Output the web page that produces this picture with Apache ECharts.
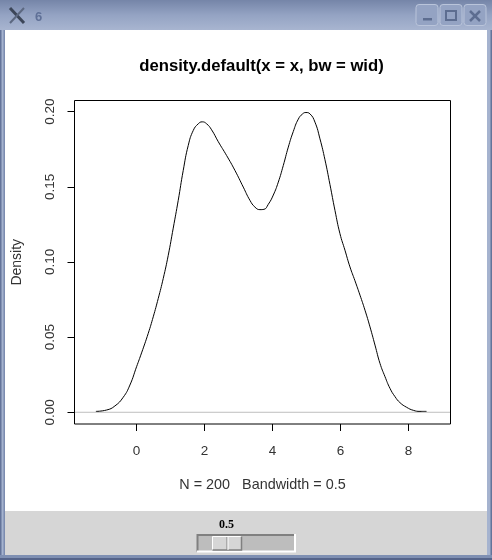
<!DOCTYPE html>
<html><head><meta charset="utf-8">
<style>html,body{margin:0;padding:0;background:#8fa0c0}#c{width:492px;height:560px}</style>
<script src="https://cdn.jsdelivr.net/npm/echarts@6/dist/echarts.min.js"></script>
</head><body><div id="c"></div>
<script>
const densityX = [-1.191,-0.877,-0.632,-0.387,-0.191,0.005,0.152,0.348,0.495,0.642,0.789,0.936,1.083,1.230,1.377,1.524,1.672,1.819,1.936,2.064,2.211,2.407,2.652,2.897,3.142,3.338,3.485,3.632,3.750,3.877,4.025,4.172,4.319,4.466,4.613,4.760,4.887,4.985,5.103,5.250,5.397,5.544,5.691,5.838,5.985,6.132,6.279,6.426,6.574,6.721,6.868,7.015,7.162,7.309,7.456,7.603,7.750,7.946,8.142,8.338,8.529];
const densityY = [0.0006,0.0015,0.0042,0.0100,0.0181,0.0303,0.0395,0.0525,0.0635,0.0757,0.0890,0.1044,0.1225,0.1410,0.1609,0.1775,0.1875,0.1919,0.1932,0.1919,0.1879,0.1800,0.1708,0.1609,0.1498,0.1410,0.1365,0.1348,0.1350,0.1383,0.1445,0.1531,0.1642,0.1764,0.1868,0.1950,0.1985,0.1994,0.1985,0.1930,0.1819,0.1680,0.1515,0.1343,0.1188,0.1078,0.0967,0.0875,0.0779,0.0679,0.0568,0.0447,0.0325,0.0237,0.0159,0.0104,0.0064,0.0033,0.0013,0.0006,0.0006];
const xTicks = [0,2,4,6,8];
const yTicks = [0,0.05,0.10,0.15,0.20];
const titleText = 'density.default(x = x, bw = wid)';
const subText = 'N = 200   Bandwidth = 0.5';
const yName = 'Density';
const sliderLabel = '0.5';
const windowLabel = '6';

const font = '"Liberation Sans", Arial, sans-serif';
const chart = echarts.init(document.getElementById('c'), null, {renderer:'canvas'});
const btn = (x) => ({type:'rect',silent:true,z:1,shape:{x:x,y:4.5,width:22,height:21,r:3},style:{fill:'#94a3c3',stroke:'#b9c4da',lineWidth:1}});
chart.setOption({
  animation:false,
  backgroundColor:'#ffffff',
  title:{text:titleText,left:256.5,top:53,textAlign:'center',textStyle:{fontFamily:font,fontSize:16.7,fontWeight:'bold',color:'#000'}},
  grid:{left:74.5,top:100.5,width:376,height:323.5,show:true,borderColor:'#000',borderWidth:1,backgroundColor:'transparent',z:3,outerBoundsMode:'none',containLabel:false},
  xAxis:{type:'value',min:-1.82,max:9.235,splitLine:{show:false},axisLine:{show:false,onZero:false},
    axisTick:{show:true,length:7,inside:false,customValues:xTicks,lineStyle:{color:'#000',width:1}},
    axisLabel:{show:true,customValues:xTicks,margin:20,fontFamily:font,fontSize:13.5,color:'#333',formatter:v=>String(v)},
    name:subText,nameLocation:'middle',nameGap:54,nameTextStyle:{fontFamily:font,fontSize:14.4,color:'#333'}},
  yAxis:{type:'value',min:-0.0078,max:0.2074,splitLine:{show:false},axisLine:{show:false,onZero:false},
    axisTick:{show:true,length:7,inside:false,customValues:yTicks,lineStyle:{color:'#000',width:1}},
    axisLabel:{show:true,customValues:yTicks,rotate:90,margin:17,fontFamily:font,fontSize:13.5,color:'#333',formatter:v=>v.toFixed(2)},
    name:yName,nameLocation:'middle',nameGap:50,nameRotate:90,nameTextStyle:{fontFamily:font,fontSize:14,color:'#333'}},
  series:[
    {type:'line',name:'baseline',silent:true,symbol:'none',z:2,lineStyle:{color:'#bebebe',width:1},data:[[-1.82,0],[9.235,0]]},
    {type:'line',name:'density',silent:true,symbol:'none',z:3,smooth:0.5,lineStyle:{color:'#000',width:1},data:densityX.map((x,i)=>[x,densityY[i]])}
  ],
  graphic:[
    {type:'group',z:0,silent:true,children:[
      {type:'rect',z:1,shape:{x:0,y:0,width:492,height:30},style:{fill:new echarts.graphic.LinearGradient(0,0,0,1,[{offset:0,color:'#7585a8'},{offset:0.5,color:'#94a3c3'},{offset:1,color:'#a8b5d0'}])}},
      {type:'rect',z:1,shape:{x:0,y:30,width:5,height:530},style:{fill:'#a5b3cf'}},
      {type:'rect',z:1,shape:{x:0,y:30,width:1.5,height:530},style:{fill:'#64749a'}},
      {type:'rect',z:1,shape:{x:3.5,y:30,width:1.5,height:530},style:{fill:'#7c8cb0'}},
      {type:'rect',z:1,shape:{x:487,y:30,width:5,height:530},style:{fill:'#a5b3cf'}},
      {type:'rect',z:1,shape:{x:490.5,y:30,width:1.5,height:530},style:{fill:'#64749a'}},
      {type:'rect',z:1,shape:{x:0,y:555,width:492,height:5},style:{fill:'#7f90b3'}},
      {type:'rect',z:1,shape:{x:0,y:558,width:492,height:2},style:{fill:'#55648a'}},
      {type:'rect',z:1,shape:{x:5,y:511,width:482,height:44},style:{fill:'#d6d6d6'}},
      btn(416),btn(440),btn(464),
      {type:'rect',z:2,shape:{x:423,y:18,width:9,height:2.5},style:{fill:'#5d6d90'}},
      {type:'rect',z:2,shape:{x:446,y:11,width:10,height:9},style:{fill:'none',stroke:'#5d6d90',lineWidth:2}},
      {type:'line',z:2,shape:{x1:470,y1:11,x2:480,y2:21},style:{stroke:'#5d6d90',lineWidth:2.5}},
      {type:'line',z:2,shape:{x1:480,y1:11,x2:470,y2:21},style:{stroke:'#5d6d90',lineWidth:2.5}},
      {type:'line',z:2,shape:{x1:10,y1:8,x2:24,y2:23},style:{stroke:'#3c4658',lineWidth:3}},
      {type:'line',z:2,shape:{x1:24,y1:8,x2:10,y2:23},style:{stroke:'#5c6880',lineWidth:2}},
      {type:'text',z:2,style:{x:35,y:11,text:windowLabel,font:'bold 13px '+font,fill:'#5f7097'}},
      {type:'text',z:2,style:{x:226.5,y:519,text:sliderLabel,align:'center',font:'bold 12px "Liberation Serif", serif',fill:'#000'}},
      {type:'rect',z:2,shape:{x:197,y:534,width:98,height:18},style:{fill:'#bdbdbd'}},
      {type:'polyline',z:3,shape:{points:[[197.5,551.5],[197.5,535],[295,535]]},style:{fill:'none',stroke:'#808080',lineWidth:2}},
      {type:'polyline',z:3,shape:{points:[[197,551.5],[295,551.5],[295,534]]},style:{fill:'none',stroke:'#ffffff',lineWidth:2}},
      {type:'rect',z:4,shape:{x:212.5,y:536.5,width:29,height:13.5},style:{fill:'#d6d6d6'}},
      {type:'polyline',z:5,shape:{points:[[212.5,550],[212.5,536.5],[241.5,536.5]]},style:{fill:'none',stroke:'#ffffff',lineWidth:1}},
      {type:'polyline',z:5,shape:{points:[[212.5,550],[241.5,550],[241.5,536.5]]},style:{fill:'none',stroke:'#808080',lineWidth:1.5}},
      {type:'line',z:5,shape:{x1:227,y1:537,x2:227,y2:550},style:{stroke:'#808080',lineWidth:1}},
      {type:'line',z:5,shape:{x1:228,y1:537,x2:228,y2:550},style:{stroke:'#ffffff',lineWidth:1}}
    ]}
  ]
});
</script></body></html>
